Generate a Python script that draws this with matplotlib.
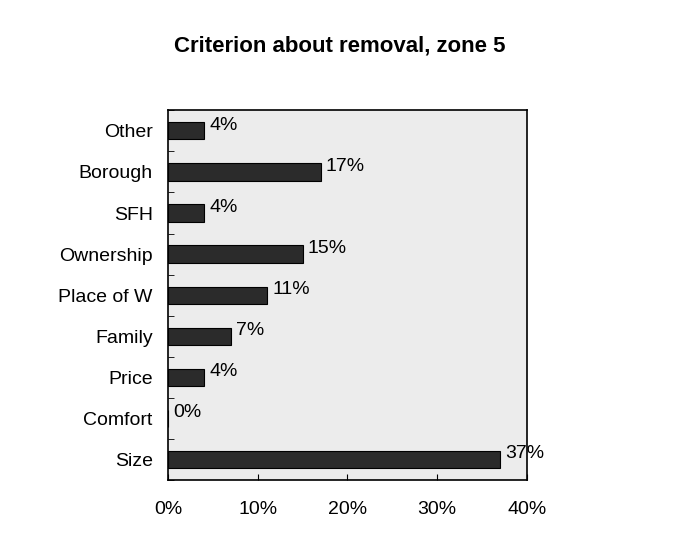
import matplotlib.pyplot as plt
import numpy as np

plt.rcParams['font.family'] = ['Liberation Sans', 'DejaVu Sans']

# data, top to bottom as shown
categories = ['Other', 'Borough', 'SFH', 'Ownership', 'Place of W', 'Family', 'Price', 'Comfort', 'Size']
values = [4, 17, 4, 15, 11, 7, 4, 0, 37]
xticks = [0, 10, 20, 30, 40]

fig = plt.figure(figsize=(6.8, 5.57), dpi=100)
ax = fig.add_axes([0.247, 0.138, 0.528, 0.664])
ax.set_facecolor('#ececec')

y = np.arange(len(categories))
ax.barh(y, values, height=0.42, color='#2b2b2b', edgecolor='black', linewidth=0.8)
for yi, v in zip(y, values):
    ax.text(v + 0.6, yi - 0.14, f'{v}%', va='center', ha='left', fontsize=14)

ax.set_ylim(len(categories) - 0.5, -0.5)
ax.set_xlim(0, 40)
ax.set_yticks(y)
ax.set_yticklabels(categories, fontsize=14)
ax.set_xticks(xticks)
ax.set_xticklabels([f'{t}%' for t in xticks], fontsize=14)
ax.set_yticks(np.arange(len(categories) + 1) - 0.5, minor=True)
ax.tick_params(axis='y', which='major', length=0, pad=11)
ax.tick_params(axis='y', which='minor', length=4, direction='in')
ax.tick_params(axis='x', length=4, direction='in', pad=15)
for s in ax.spines.values():
    s.set_color('black')
    s.set_linewidth(1.2)

fig.text(0.5, 0.917, 'Criterion about removal, zone 5', ha='center', va='center',
         fontsize=16, fontweight='bold')

fig.savefig('out.png', dpi=100)
